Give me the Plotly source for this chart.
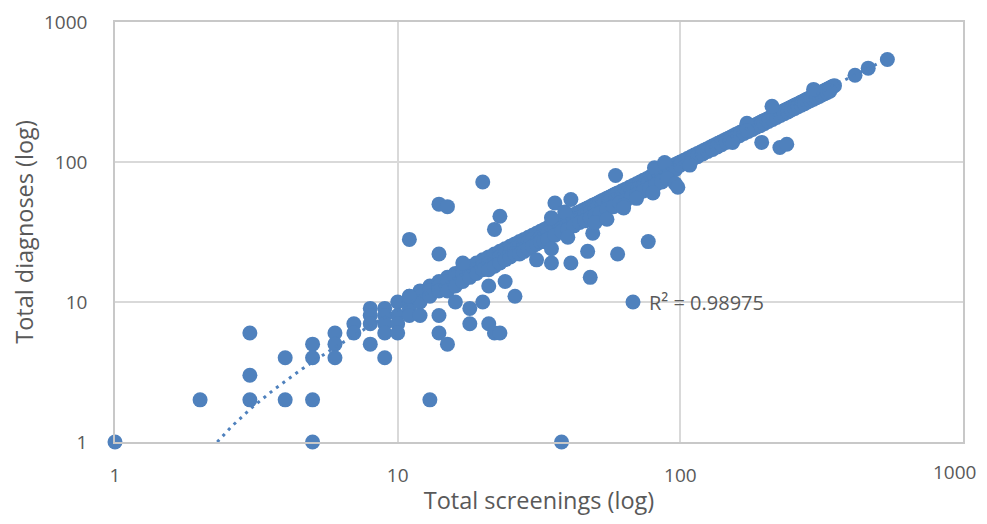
import numpy as np
import plotly.graph_objects as go

# ---------------- data ----------------
# dense band on the diagonal (diagnoses == screenings)
band1_screenings = [10,11,12,13,14,15,16,17,18,19,20,21,22,23,24,25,26,27,28,29,30,31,32,33,34,35,36,37,38,39,40,
                    41,42,43,44,45,46,47,48,49,50,51,52,53,54,55,56,57,58,59,60,
                    62,64,66,68,70,72,74,76,78,80,82,84,86,88,90,92,94,96,98,100,
                    103,106,109,112,115,118,121,124,127,130,133,136,139,142,145,148,151,154,157,160,163,166,169,
                    172,175,178,181,184,187,190,193,196,199,
                    203,207,211,215,219,223,227,231,235,239,243,247,251,255,259,263,267,271,275,279,283,287,291,
                    295,299,303,307,311,315,319,323,327,331,335,339,343,347,351]
band1_diagnoses = [10,11,12,13,14,15,16,17,18,19,20,21,22,23,24,25,26,27,28,29,30,31,32,33,34,35,36,37,38,39,40,
                   41,42,43,44,45,46,47,48,49,50,51,52,53,54,55,56,57,58,59,60,
                   62,64,66,68,70,72,74,76,78,80,82,84,86,88,90,92,94,96,98,100,
                   103,106,109,112,115,118,121,124,127,130,133,136,139,142,145,148,151,154,157,160,163,166,169,
                   172,175,178,181,184,187,190,193,196,199,
                   203,207,211,215,219,223,227,231,235,239,243,247,251,255,259,263,267,271,275,279,283,287,291,
                   295,299,303,307,311,315,319,323,327,331,335,339,343,347,351]

# band just below the diagonal
band2_screenings = [11,12,13,14,15,16,17,18,19,20,21,22,23,24,25,26,27,28,29,30,32,34,36,38,40,42,44,46,48,50,
                    53,56,59,62,65,68,71,74,77,80,84,88,92,96,
                    100,105,110,115,120,125,130,135,140,145,150,156,162,168,174,180,186,192,198,205,212,219,226,
                    233,240,247,254,261,268,275,282,289,296,303,310,317,324,331,338]
band2_diagnoses = [10,11,12,13,14,15,16,17,17,18,19,20,21,22,23,24,25,26,27,28,29,31,33,35,37,39,40,42,44,46,
                   49,52,54,57,60,63,65,68,71,74,77,81,85,88,
                   95,100,104,109,114,119,123,128,133,138,142,148,154,160,165,171,177,182,188,195,201,208,215,
                   221,228,235,241,248,255,261,268,275,281,288,294,301,308,314,321]

# lower edge of the band
band3_screenings = [10,11,12,13,14,15,16,17,18,19,20,21,22,23,24,25,26,27,28,29,30,31,32,33,34,36,38,40,42,44,46,48,
                    50,52,55,58,61,64,67,70,74,78,82,86,90]
band3_diagnoses = [8,9,10,11,12,12,13,14,15,16,17,17,18,19,20,21,22,22,23,24,25,26,27,27,28,30,32,33,35,37,38,40,
                   42,43,46,48,51,53,56,58,62,65,69,72,76]

# scattered sites
outlier_screenings = [1,2,3,3,3,4,4,5,5,5,5,6,6,6,7,7,8,8,8,8,9,9,9,9,9,10,10,11,11,12,13,14,14,15,16,17,18,18,
                      20,21,21,22,23,24,26,
                      11,14,14,15,20,22,23,
                      31,35,35,35,36,38,39,40,41,41,47,48,49,50,55,59,60,63,63,68,70,77,80,81,88,96,98,108,
                      153,172,172,194,211,225,238,296,415,462,540]
outlier_diagnoses = [1,2,6,3,2,4,2,5,4,2,1,6,5,4,7,6,9,8,7,5,9,8,7,6,4,7,6,11,8,8,2,8,6,5,10,19,9,7,
                     10,7,13,6,6,14,11,
                     28,22,50,48,72,33,41,
                     20,19,24,40,51,1,44,29,54,19,23,15,31,37,39,80,22,49,47,10,55,27,60,91,99,70,66,95,
                     138,189,168,138,250,127,134,330,417,468,540]

# linear trendline as shown (y = a*x + b) and its R^2 label
TREND_SLOPE = 1.013
TREND_INTERCEPT = -1.33
R2_TEXT = "R² = 0.98975"

tick_vals = [1, 10, 100, 1000]
tick_text = ["1", "10", "100", "1000"]

x_title = "Total screenings (log)"
y_title = "Total diagnoses (log)"

# ---------------- figure ----------------
screenings = band1_screenings + band2_screenings + band3_screenings + outlier_screenings
diagnoses = band1_diagnoses + band2_diagnoses + band3_diagnoses + outlier_diagnoses

BLUE = "#4f81bd"
GREY_TXT = "#595959"
FONT = "Open Sans"
TICK_SIZE = 19

x_start = (1 - TREND_INTERCEPT) / TREND_SLOPE
x_end = max(screenings)
trend_x = np.logspace(np.log10(x_start), np.log10(x_end), 300)
trend_y = TREND_SLOPE * trend_x + TREND_INTERCEPT

fig = go.Figure()
fig.add_trace(go.Scatter(
    x=screenings, y=diagnoses, mode="markers",
    marker=dict(size=15, color=BLUE, line=dict(width=0)),
    cliponaxis=False, showlegend=False, hoverinfo="x+y",
))
fig.add_trace(go.Scatter(
    x=trend_x, y=trend_y, mode="lines",
    line=dict(color=BLUE, width=3, dash="3px,5px"),
    showlegend=False, hoverinfo="skip",
))

fig.add_annotation(
    x=np.log10(68), y=1, xref="x", yref="y", text=R2_TEXT, showarrow=False,
    xanchor="left", yanchor="middle", xshift=14,
    font=dict(family=FONT, size=20, color=GREY_TXT),
)

# last x tick label is written right-aligned so it stays inside the window
x_tick_text = tick_text[:-1] + [""]
fig.add_annotation(
    x=np.log10(tick_vals[-1]), y=0, xref="x", yref="paper", text=tick_text[-1], showarrow=False,
    xanchor="right", yanchor="top", xshift=15, yshift=-15,
    font=dict(family=FONT, size=TICK_SIZE, color=GREY_TXT),
)

axis_common = dict(
    type="log", range=[0, 3],
    tickvals=tick_vals,
    showgrid=True, gridcolor="#d9d9d9", gridwidth=1.5,
    showline=True, linecolor="#c8c8c8", linewidth=1.5, mirror=True,
    ticks="", zeroline=False, automargin=False,
    ticklabeloverflow="allow",
    tickfont=dict(family=FONT, size=TICK_SIZE, color=GREY_TXT),
)

# page body adds an 8px offset, so the figure is sized to fit the 987x524 window
fig.update_layout(
    width=979, height=508,
    margin=dict(l=107, r=24, t=14, b=74),
    paper_bgcolor="white", plot_bgcolor="white",
    font=dict(family=FONT, color=GREY_TXT),
    xaxis=dict(**axis_common, ticktext=x_tick_text, ticklabelstandoff=15,
               title=dict(text=x_title, font=dict(family=FONT, size=23.5, color=GREY_TXT), standoff=11)),
    yaxis=dict(**axis_common, ticktext=tick_text, ticklabelstandoff=22,
               title=dict(text=y_title, font=dict(family=FONT, size=23.5, color=GREY_TXT), standoff=16)),
)

fig.write_html("out.html")
